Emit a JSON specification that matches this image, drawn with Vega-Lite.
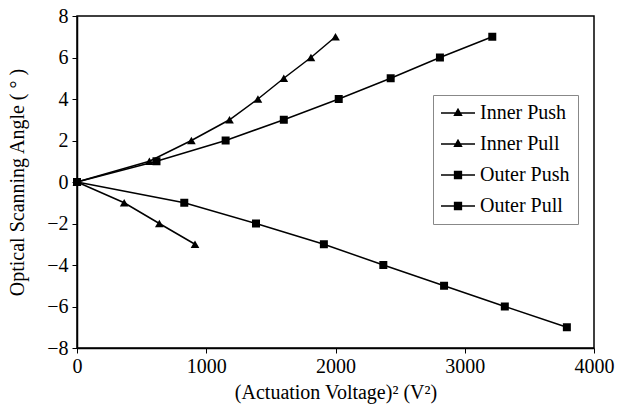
{
  "$schema": "https://vega.github.io/schema/vega-lite/v6.json",
  "width": 517,
  "height": 332,
  "autosize": "none",
  "padding": {"left": 77, "top": 16, "right": 23, "bottom": 63},
  "background": "white",
  "config": {
    "font": "Liberation Serif",
    "view": {"stroke": "black", "strokeWidth": 1.5},
    "axis": {
      "grid": false,
      "domainColor": "black",
      "domainWidth": 1.5,
      "tickColor": "black",
      "tickSize": 5,
      "tickWidth": 1,
      "labelFont": "Liberation Serif",
      "labelFontSize": 20,
      "labelColor": "black",
      "titleFont": "Liberation Serif",
      "titleFontSize": 20,
      "titleFontWeight": "normal",
      "titleColor": "black"
    }
  },
  "data": {
    "values": [
      {"series": "Inner Push", "x": 0, "y": 0},
      {"series": "Inner Push", "x": 560, "y": 1},
      {"series": "Inner Push", "x": 885, "y": 2},
      {"series": "Inner Push", "x": 1180, "y": 3},
      {"series": "Inner Push", "x": 1400, "y": 4},
      {"series": "Inner Push", "x": 1600, "y": 5},
      {"series": "Inner Push", "x": 1810, "y": 6},
      {"series": "Inner Push", "x": 2000, "y": 7},
      {"series": "Inner Pull", "x": 0, "y": 0},
      {"series": "Inner Pull", "x": 365, "y": -1},
      {"series": "Inner Pull", "x": 637, "y": -2},
      {"series": "Inner Pull", "x": 913, "y": -3},
      {"series": "Outer Push", "x": 0, "y": 0},
      {"series": "Outer Push", "x": 615, "y": 1},
      {"series": "Outer Push", "x": 1150, "y": 2},
      {"series": "Outer Push", "x": 1600, "y": 3},
      {"series": "Outer Push", "x": 2025, "y": 4},
      {"series": "Outer Push", "x": 2427, "y": 5},
      {"series": "Outer Push", "x": 2808, "y": 6},
      {"series": "Outer Push", "x": 3213, "y": 7},
      {"series": "Outer Pull", "x": 0, "y": 0},
      {"series": "Outer Pull", "x": 830, "y": -1},
      {"series": "Outer Pull", "x": 1385, "y": -2},
      {"series": "Outer Pull", "x": 1910, "y": -3},
      {"series": "Outer Pull", "x": 2370, "y": -4},
      {"series": "Outer Pull", "x": 2840, "y": -5},
      {"series": "Outer Pull", "x": 3310, "y": -6},
      {"series": "Outer Pull", "x": 3790, "y": -7}
    ]
  },
  "encoding": {
    "x": {
      "field": "x",
      "type": "quantitative",
      "scale": {"domain": [0, 4000], "nice": false, "zero": false},
      "axis": {"values": [0, 1000, 2000, 3000, 4000], "format": "d", "labelPadding": 3, "titlePadding": 6, "title": "(Actuation Voltage)² (V²)", "labelFlush": false, "labelFont": "Liberation Serif", "titleFont": "Liberation Serif"}
    },
    "y": {
      "field": "y",
      "type": "quantitative",
      "scale": {"domain": [-8, 8], "nice": false},
      "axis": {"values": [-8, -6, -4, -2, 0, 2, 4, 6, 8], "labelPadding": 4, "titlePadding": 19, "title": "Optical Scanning Angle ( ° )", "labelFlush": false, "labelFont": "Liberation Serif", "titleFont": "Liberation Serif"}
    }
  },
  "layer": [
    {
      "mark": {"type": "line", "strokeWidth": 1.5},
      "encoding": {
        "color": {
          "field": "series",
          "type": "nominal",
          "scale": {"domain": ["Inner Push", "Inner Pull", "Outer Push", "Outer Pull"], "range": ["black", "black", "black", "black"]},
          "legend": {
            "title": null,
            "orient": "none",
            "legendX": 356,
            "legendY": 79,
            "padding": 8,
            "strokeColor": "#888888",
            "fillColor": "white",
            "labelFont": "Liberation Serif",
            "labelFontSize": 20,
            "labelColor": "black",
            "symbolSize": 289,
            "symbolOffset": 7,
            "labelOffset": 12,
            "rowPadding": 11,
            "encode": {
              "symbols": {
                "update": {
                  "shape": {"signal": "test(/Inner/, datum.value) ? 'M-2,0H2M-0.4,0.25L0.4,0.25L0,-0.45Z' : 'M-2,0H2M-0.4,-0.4H0.4V0.4H-0.4Z'"},
                  "fill": {"value": "black"},
                  "stroke": {"value": "black"},
                  "strokeWidth": {"value": 1.5}
                }
              }
            }
          }
        }
      }
    },
    {
      "transform": [{"filter": "test(/Inner/, datum.series)"}],
      "mark": {"type": "point", "filled": true, "color": "black", "opacity": 1, "size": 75, "shape": "triangle-up"}
    },
    {
      "transform": [{"filter": "test(/Outer/, datum.series)"}],
      "mark": {"type": "point", "filled": true, "color": "black", "opacity": 1, "size": 64, "shape": "square"}
    }
  ]
}
